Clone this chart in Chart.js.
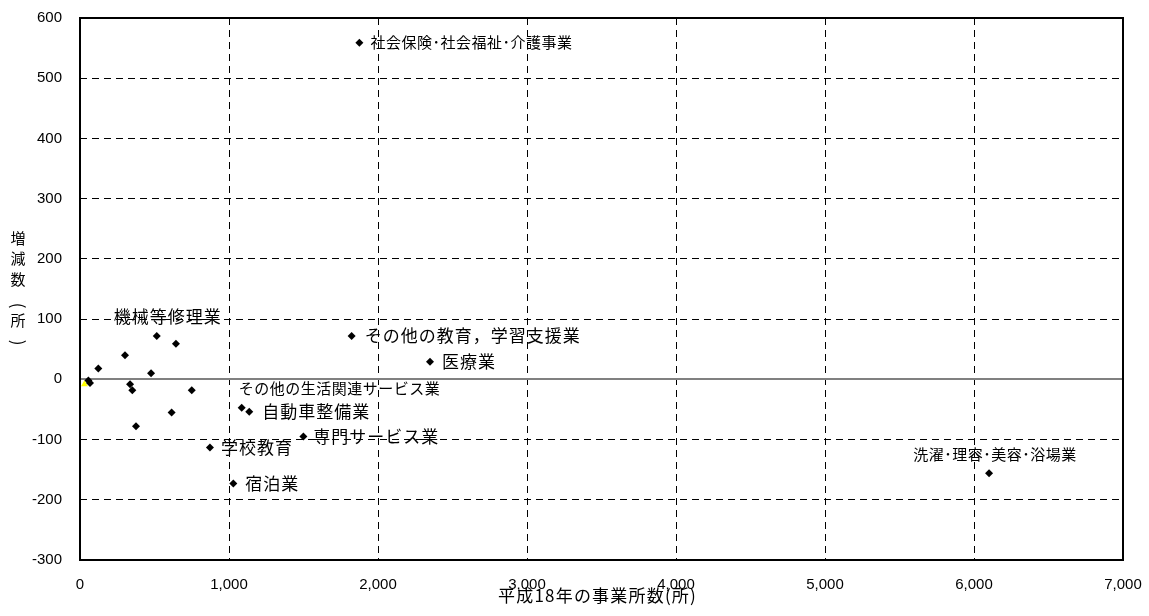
<!DOCTYPE html>
<html lang="ja">
<head>
<meta charset="utf-8">
<title>平成18年の事業所数と増減数</title>
<script src="https://cdn.jsdelivr.net/npm/chart.js@4/dist/chart.umd.min.js"></script>
<style>
  html, body { margin: 0; padding: 0; background: #fff; }
  #wrap { width: 1149px; height: 616px; }
</style>
</head>
<body>
<div id="wrap"><canvas id="chart" width="1149" height="616"></canvas></div>
<script>
// 平成18年の事業所数 (x) と 増減数 (y)
var establishments = [56, 67, 123, 302, 336, 351, 376, 477, 515, 615, 644, 750,
  872, 1029, 1085, 1136, 1499, 1823, 1875, 2349, 6101];
var changes = [-2, -6, 18, 40, -8, -18, -78, 10, 72, -55, 59, -18,
  -113, -173, -47, -54, -95, 72, 559, 29, -156];
var industryNames = ['', '', '', '', '', '', '', '', '機械等修理業', '', '', '',
  '学校教育', '宿泊業', 'その他の生活関連サービス業', '自動車整備業', '専門サービス業',
  'その他の教育，学習支援業', '社会保険･社会福祉･介護事業', '医療業', '洗濯･理容･美容･浴場業'];

// 黄色のマーカー (原点付近)
var markerX = [30];
var markerY = [-8];

var xTicks = [0, 1000, 2000, 3000, 4000, 5000, 6000, 7000];
var yTicks = [-300, -200, -100, 0, 100, 200, 300, 400, 500, 600];

var xTitle = '平成18年の事業所数(所)';
var yTitle = ['増', '減', '数', '(', '所', ')'];

(function () {
  'use strict';

  // label placement relative to its point (px): align, dx, dy, big font?
  var labelLayout = {
    8: { align: 'center', dx: 11, dy: -19, big: true },
    12: { align: 'left', dx: 11, dy: 0, big: true },
    13: { align: 'left', dx: 12, dy: 0, big: true },
    14: { align: 'left', dx: -3, dy: -19, big: false },
    15: { align: 'left', dx: 13, dy: 0, big: true },
    16: { align: 'left', dx: 10, dy: 0, big: true },
    17: { align: 'left', dx: 13, dy: 0, big: true },
    18: { align: 'left', dx: 11, dy: 0, big: false },
    19: { align: 'left', dx: 12, dy: 0, big: true },
    20: { align: 'center', dx: 6, dy: -19, big: false }
  };

  var CJK = '"Noto Sans CJK JP", "Noto Sans", sans-serif';
  var LATIN = '"Liberation Sans", Arial, sans-serif';

  function toPoints(xs, ys) {
    return xs.map(function (x, i) {
      return { x: x, y: ys[i] };
    });
  }

  var pointLabels = {
    id: 'pointLabels',
    afterDatasetsDraw: function (chart) {
      var ctx = chart.ctx;
      var meta = chart.getDatasetMeta(0);
      ctx.save();
      ctx.fillStyle = '#000';
      ctx.textBaseline = 'middle';
      meta.data.forEach(function (el, i) {
        var name = industryNames[i];
        var lay = labelLayout[i];
        if (!name || !lay) {
          return;
        }
        ctx.font = lay.big ? '17px ' + CJK : '15px ' + CJK;
        ctx.letterSpacing = lay.big ? '1px' : '0.5px';
        ctx.textAlign = lay.align;
        ctx.fillText(name, el.x + lay.dx, el.y + lay.dy);
      });
      ctx.restore();
    }
  };

  var frameAndTitles = {
    id: 'frameAndTitles',
    afterDraw: function (chart) {
      var ctx = chart.ctx;
      var a = chart.chartArea;
      ctx.save();
      ctx.strokeStyle = '#000';
      ctx.lineWidth = 2;
      ctx.strokeRect(a.left, a.top, a.right - a.left, a.bottom - a.top);

      ctx.fillStyle = '#000';
      ctx.textAlign = 'center';
      ctx.textBaseline = 'middle';
      ctx.font = '17px ' + CJK;
      ctx.letterSpacing = '1.2px';
      ctx.fillText(xTitle, (a.left + a.right) / 2 - 4, 596);
      ctx.letterSpacing = '0px';

      // vertical title, brackets turned a quarter
      ctx.font = '15px ' + CJK;
      yTitle.forEach(function (ch, i) {
        var y = 238 + i * 20.5;
        if (ch === '(' || ch === ')') {
          ctx.save();
          ctx.translate(18, ch === '(' ? y + 6 : y + 2);
          ctx.rotate(Math.PI / 2);
          ctx.font = '17px ' + CJK;
          ctx.fillText(ch, 0, 0);
          ctx.restore();
        } else {
          ctx.fillText(ch, 18, y);
        }
      });
      ctx.restore();
    }
  };

  function isZero(c) {
    return c.tick && c.tick.value === 0;
  }

  new Chart(document.getElementById('chart'), {
    type: 'scatter',
    data: {
      datasets: [{
        data: toPoints(establishments, changes),
        pointStyle: 'rectRot',
        pointRadius: 4,
        pointHoverRadius: 4,
        borderWidth: 0,
        backgroundColor: '#000',
        borderColor: '#000'
      }, {
        data: toPoints(markerX, markerY),
        pointStyle: 'triangle',
        pointRadius: 4,
        borderWidth: 0,
        backgroundColor: '#ffff00',
        borderColor: '#ffff00'
      }]
    },
    options: {
      responsive: false,
      animation: false,
      locale: 'en-US',
      layout: { padding: { top: 18, right: 26, left: 0, bottom: 0 } },
      plugins: {
        legend: { display: false },
        tooltip: { enabled: false }
      },
      scales: {
        x: {
          type: 'linear',
          min: xTicks[0],
          max: xTicks[xTicks.length - 1],
          afterBuildTicks: function (scale) {
            scale.ticks = xTicks.map(function (v) { return { value: v }; });
          },
          afterFit: function (scale) { scale.height = 56; },
          ticks: {
            autoSkip: false,
            maxRotation: 0,
            padding: 0,
            color: '#000',
            font: { family: LATIN, size: 15 },
            callback: function (v) { return v.toLocaleString('en-US'); }
          },
          // invisible ticks make the gap below the frame
          grid: {
            color: '#000',
            lineWidth: 1,
            drawTicks: true,
            tickLength: 16,
            tickColor: 'rgba(0,0,0,0)'
          },
          border: { display: false, dash: [7, 5] }
        },
        y: {
          type: 'linear',
          min: yTicks[0],
          max: yTicks[yTicks.length - 1],
          afterBuildTicks: function (scale) {
            scale.ticks = yTicks.map(function (v) { return { value: v }; });
          },
          afterFit: function (scale) { scale.width = 80; },
          ticks: {
            padding: 0,
            color: '#000',
            font: { family: LATIN, size: 15 },
            callback: function (v) { return String(v); }
          },
          grid: {
            drawTicks: true,
            tickLength: 18,
            tickColor: 'rgba(0,0,0,0)',
            color: function (c) { return isZero(c) ? '#808080' : '#000'; },
            lineWidth: function (c) { return isZero(c) ? 2 : 1; }
          },
          border: {
            display: false,
            dash: function (c) { return isZero(c) ? [] : [7, 5]; }
          }
        }
      }
    },
    plugins: [pointLabels, frameAndTitles]
  });
})();
</script>
</body>
</html>
